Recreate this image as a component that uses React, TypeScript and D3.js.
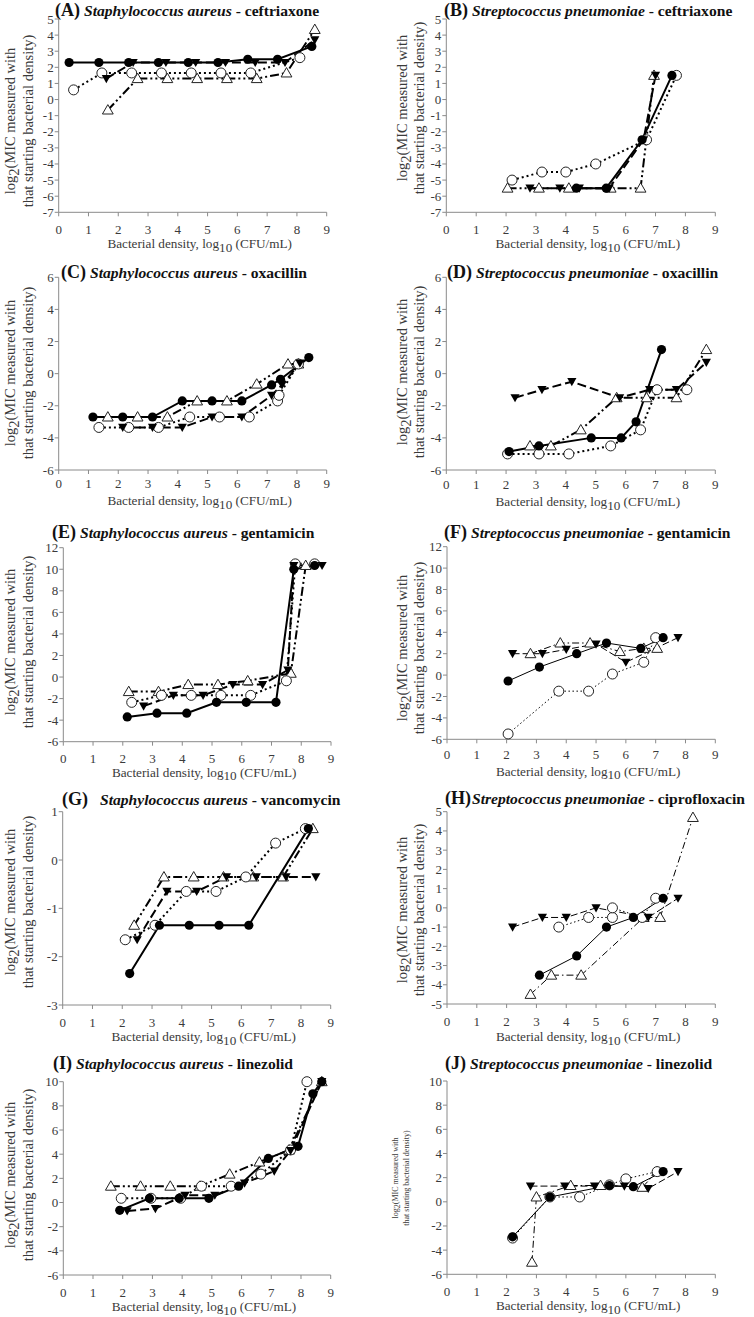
import React from 'react';
import * as d3 from 'd3';

type Pt = [number, number];

// ---------- tick labels ----------
const xTickVals = [0, 1, 2, 3, 4, 5, 6, 7, 8, 9];
const yTicksAB = [-7, -6, -5, -4, -3, -2, -1, 0, 1, 2, 3, 4, 5];
const yTicksCD = [-6, -4, -2, 0, 2, 4, 6];
const yTicksEF = [-6, -4, -2, 0, 2, 4, 6, 8, 10, 12];
const yTicksG = [-3, -2, -1, 0, 1];
const yTicksH = [-5, -4, -3, -2, -1, 0, 1, 2, 3, 4, 5];
const yTicksIJ = [-6, -4, -2, 0, 2, 4, 6, 8, 10];

// ---------- data: fc = filled circle, ft = filled triangle, oc = open circle, ot = open triangle ----------
const aFC: Pt[] = [[0.35, 2.3], [1.35, 2.3], [2.35, 2.3], [3.35, 2.3], [4.35, 2.3], [5.35, 2.3], [6.35, 2.5], [7.35, 2.5], [8.5, 3.3]];
const aFT: Pt[] = [[1.6, 1.3], [2.5, 2.3], [3.6, 2.3], [4.6, 2.3], [5.6, 2.3], [6.6, 2.3], [7.6, 2.3], [8.6, 3.7]];
const aOC: Pt[] = [[0.5, 0.6], [1.45, 1.65], [2.45, 1.65], [3.45, 1.65], [4.45, 1.65], [5.45, 1.65], [6.45, 1.65], [8.1, 2.6]];
const aOT: Pt[] = [[1.65, -0.65], [2.65, 1.3], [3.65, 1.3], [4.65, 1.3], [5.65, 1.3], [6.65, 1.3], [7.65, 1.65], [8.6, 4.35]];

const bFC: Pt[] = [[4.35, -5.5], [5.35, -5.5], [6.55, -2.5], [7.55, 1.5]];
const bFT: Pt[] = [[2.8, -5.5], [3.8, -5.5], [4.45, -5.5], [5.45, -5.5], [6.6, -2.5], [7.0, 1.5]];
const bOC: Pt[] = [[2.2, -5.0], [3.2, -4.5], [4.0, -4.5], [5.0, -4.0], [6.7, -2.5], [7.7, 1.5]];
const bOT: Pt[] = [[2.05, -5.5], [3.1, -5.5], [4.1, -5.5], [5.5, -5.5], [6.5, -5.5], [6.95, 1.5]];

const cFC: Pt[] = [[1.15, -2.7], [2.15, -2.7], [3.15, -2.7], [4.15, -1.7], [5.15, -1.7], [6.15, -1.7], [7.15, -0.7], [7.45, -0.35], [8.4, 1.0]];
const cFT: Pt[] = [[2.15, -3.35], [3.15, -3.35], [4.15, -3.35], [5.15, -2.7], [6.15, -2.7], [7.15, -1.35], [7.5, -0.7], [8.1, 0.65]];
const cOC: Pt[] = [[1.35, -3.35], [2.35, -3.35], [3.35, -3.35], [4.4, -2.7], [5.4, -2.7], [6.4, -2.7], [7.35, -1.7], [7.4, -1.35], [8.05, 0.6]];
const cOT: Pt[] = [[1.65, -2.7], [2.65, -2.7], [3.65, -2.7], [4.65, -1.7], [5.65, -1.7], [6.65, -0.65], [7.7, 0.6], [8.05, 0.6]];

const dFC: Pt[] = [[2.1, -4.85], [3.1, -4.5], [4.85, -4.0], [5.85, -4.0], [6.35, -3.0], [7.2, 1.5]];
const dFT: Pt[] = [[2.3, -1.5], [3.2, -1.0], [4.2, -0.5], [5.8, -1.5], [6.8, -1.0], [7.7, -1.0], [8.7, 0.7]];
const dOC: Pt[] = [[2.05, -5.0], [3.1, -5.0], [4.1, -5.0], [5.5, -4.5], [6.5, -3.5], [7.05, -1.0], [8.05, -1.0]];
const dOT: Pt[] = [[2.8, -4.5], [3.5, -4.5], [4.5, -3.5], [5.7, -1.5], [6.7, -1.5], [7.7, -1.5], [8.7, 1.5]];

const eFC: Pt[] = [[2.15, -3.7], [3.15, -3.35], [4.15, -3.35], [5.15, -2.35], [6.15, -2.35], [7.15, -2.35], [7.75, 10.0], [8.45, 10.35]];
const eFT: Pt[] = [[2.7, -2.7], [3.7, -1.7], [4.7, -1.7], [5.7, -0.7], [6.7, -0.7], [7.55, 0.65], [7.75, 10.35], [8.7, 10.35]];
const eOC: Pt[] = [[2.3, -2.35], [3.3, -1.7], [4.3, -1.7], [5.3, -1.7], [6.3, -1.7], [7.5, -0.35], [7.8, 10.5], [8.45, 10.5]];
const eOT: Pt[] = [[2.2, -1.35], [3.2, -1.35], [4.2, -0.7], [5.2, -0.7], [6.2, -0.35], [7.65, 0.35], [8.15, 10.35]];

const fFC: Pt[] = [[2.05, -0.55], [3.1, 0.75], [4.35, 2.0], [5.35, 3.0], [6.5, 2.5], [7.25, 3.5]];
const fFT: Pt[] = [[2.2, 2.0], [3.2, 2.0], [4.0, 2.4], [5.0, 2.9], [6.0, 1.2], [7.75, 3.5]];
const fOC: Pt[] = [[2.05, -5.5], [3.75, -1.5], [4.75, -1.5], [5.55, 0.1], [6.6, 1.2], [7.0, 3.5]];
const fOT: Pt[] = [[2.8, 2.0], [3.8, 3.0], [4.8, 3.0], [5.8, 2.2], [6.6, 2.5], [7.05, 2.5]];

const gFC: Pt[] = [[2.25, -2.35], [3.25, -1.35], [4.25, -1.35], [5.25, -1.35], [6.25, -1.35], [8.25, 0.65]];
const gFT: Pt[] = [[2.5, -1.65], [3.5, -0.65], [4.5, -0.65], [5.5, -0.35], [6.5, -0.35], [7.5, -0.35], [8.5, -0.35]];
const gOC: Pt[] = [[2.1, -1.65], [3.1, -1.35], [4.15, -0.65], [5.15, -0.65], [6.15, -0.35], [7.15, 0.35], [8.15, 0.65]];
const gOT: Pt[] = [[2.4, -1.35], [3.4, -0.35], [4.4, -0.35], [5.4, -0.35], [6.4, -0.35], [7.4, -0.35], [8.4, 0.65]];

const hFC: Pt[] = [[3.1, -3.5], [4.35, -2.5], [5.35, -1.0], [6.25, -0.5], [7.25, 0.5]];
const hFT: Pt[] = [[2.2, -1.0], [3.2, -0.5], [4.0, -0.5], [5.0, 0.0], [6.75, -0.5], [7.75, 0.5]];
const hOC: Pt[] = [[3.75, -1.0], [4.75, -0.5], [5.55, -0.5], [5.55, 0.0], [6.55, -0.5], [7.0, 0.5]];
const hOT: Pt[] = [[2.8, -4.5], [3.5, -3.5], [4.5, -3.5], [6.6, -0.5], [7.15, -0.5], [8.25, 4.7]];

const iFC: Pt[] = [[1.9, -0.65], [2.9, 0.35], [3.9, 0.35], [4.9, 0.35], [5.9, 1.35], [6.9, 3.65], [7.9, 4.65], [8.4, 9.0], [8.7, 10.0]];
const iFT: Pt[] = [[2.15, -0.7], [3.1, -0.5], [4.1, 0.6], [5.1, 0.6], [6.1, 1.6], [7.1, 2.6], [7.65, 4.3], [8.7, 10.0]];
const iOC: Pt[] = [[1.95, 0.35], [2.95, 0.35], [3.95, 0.35], [4.65, 1.35], [5.65, 1.35], [6.65, 2.35], [7.65, 4.35], [8.2, 10.0]];
const iOT: Pt[] = [[1.6, 1.35], [2.6, 1.35], [3.6, 1.35], [4.6, 1.35], [5.6, 2.35], [6.6, 3.35], [7.6, 4.35], [8.7, 10.0]];

const jFC: Pt[] = [[2.2, -2.9], [3.45, 0.4], [5.45, 1.35], [6.25, 1.25], [7.25, 2.5]];
const jFT: Pt[] = [[2.8, 1.3], [3.95, 1.3], [4.95, 1.3], [5.95, 1.3], [6.75, 1.1], [7.75, 2.5]];
const jOC: Pt[] = [[2.2, -3.0], [3.45, 0.4], [4.45, 0.4], [5.45, 1.4], [6.0, 1.9], [7.05, 2.5]];
const jOT: Pt[] = [[2.85, -5.0], [3.0, 0.4], [4.15, 1.35], [5.15, 1.35], [6.55, 1.2], [7.05, 2.5]];

// ---------- panel meta ----------
const letters = ['(A)', '(B)', '(C)', '(D)', '(E)', '(F)', '(G)', '(H)', '(I)', '(J)'];
const speciesNames = ['Staphylococcus aureus', 'Streptococcus pneumoniae'];
const drugs = ['ceftriaxone', 'ceftriaxone', 'oxacillin', 'oxacillin', 'gentamicin', 'gentamicin', 'vancomycin', 'ciprofloxacin', 'linezolid', 'linezolid'];

interface Layout {
  x0: number; x9: number; yT: number; yB: number;
  tx: number; ty: number; gap: number;
  tickDy: number; labDy: number;
  yl1: number; yl2: number; ylc: number; ylSize: number;
  thin: boolean;
}

const L: Layout[] = [
  { x0: 58.7, x9: 326.7, yT: 19, yB: 212.3, tx: 55, ty: 15.5, gap: 4, tickDy: 22, labDy: 36, yl1: 15, yl2: 33, ylc: 121, ylSize: 14.5, thin: false },
  { x0: 446.3, x9: 715.3, yT: 19, yB: 212.3, tx: 444, ty: 15.5, gap: 4, tickDy: 22, labDy: 36, yl1: 407, yl2: 424, ylc: 108, ylSize: 14.5, thin: false },
  { x0: 58.7, x9: 326.7, yT: 277.3, yB: 470, tx: 61, ty: 278, gap: 4, tickDy: 17.5, labDy: 35, yl1: 15, yl2: 33, ylc: 373, ylSize: 14.5, thin: false },
  { x0: 446.3, x9: 715.3, yT: 277.3, yB: 470, tx: 447, ty: 278, gap: 4, tickDy: 18.5, labDy: 36, yl1: 407, yl2: 424, ylc: 372, ylSize: 14.5, thin: false },
  { x0: 63.3, x9: 331, yT: 547.7, yB: 741.7, tx: 52, ty: 538, gap: 4, tickDy: 21, labDy: 35, yl1: 15, yl2: 33, ylc: 642, ylSize: 14.5, thin: false },
  { x0: 447, x9: 715.3, yT: 546.7, yB: 739.3, tx: 444, ty: 538, gap: 4, tickDy: 20, labDy: 36.5, yl1: 407, yl2: 424, ylc: 648, ylSize: 14.5, thin: true },
  { x0: 62.7, x9: 330.7, yT: 811.7, yB: 1005, tx: 62, ty: 805, gap: 12, tickDy: 22, labDy: 36, yl1: 15, yl2: 33, ylc: 902, ylSize: 14.5, thin: false },
  { x0: 447, x9: 715.3, yT: 811.7, yB: 1004, tx: 445, ty: 804, gap: 1, tickDy: 22, labDy: 37, yl1: 407, yl2: 424, ylc: 910, ylSize: 14.5, thin: true },
  { x0: 63.3, x9: 330.7, yT: 1081.7, yB: 1275, tx: 53, ty: 1069, gap: 4, tickDy: 22, labDy: 36, yl1: 15, yl2: 33, ylc: 1175, ylSize: 14.5, thin: false },
  { x0: 447, x9: 715.3, yT: 1081, yB: 1274.3, tx: 445, ty: 1069, gap: 4, tickDy: 22, labDy: 36, yl1: 398, yl2: 409, ylc: 1178, ylSize: 8, thin: true },
];

const yTickSets = [yTicksAB, yTicksAB, yTicksCD, yTicksCD, yTicksEF, yTicksEF, yTicksG, yTicksH, yTicksIJ, yTicksIJ];
const seriesSets: Pt[][][] = [
  [aOT, aOC, aFT, aFC], [bOT, bOC, bFT, bFC], [cOT, cOC, cFT, cFC], [dOT, dOC, dFT, dFC], [eOT, eOC, eFT, eFC],
  [fOT, fOC, fFT, fFC], [gOT, gOC, gFT, gFC], [hOT, hOC, hFT, hFC], [iOT, iOC, iFT, iFC], [jOT, jOC, jFT, jFC],
];
const kinds = ['ot', 'oc', 'ft', 'fc'];

const FONT = '"Liberation Serif", "Times New Roman", serif';
const TEXT = '#3a3a3a';
const AXIS = '#8a8a8a';
const TICK_FS = 13;

function dashFor(kind: string, thin: boolean): string | undefined {
  if (kind === 'fc') return undefined;
  if (kind === 'ft') return thin ? '7,3' : '9,4';
  if (kind === 'oc') return thin ? '1.5,2.5' : '2,3';
  return thin ? '7,3,1.5,3' : '9,3,2,3,2,3';
}

function Marker({ kind, x, y }: { kind: string; x: number; y: number }) {
  if (kind === 'fc') return <circle cx={x} cy={y} r={4.6} fill="#000" />;
  if (kind === 'oc') return <circle cx={x} cy={y} r={5} fill="#fff" stroke="#222" strokeWidth={1} />;
  if (kind === 'ft') return <path d={`M${x - 4.6},${y - 3.6}L${x + 4.6},${y - 3.6}L${x},${y + 4.6}Z`} fill="#000" />;
  return <path d={`M${x},${y - 5.4}L${x + 5.4},${y + 4}L${x - 5.4},${y + 4}Z`} fill="#fff" stroke="#222" strokeWidth={1} />;
}

function Panel({ i }: { i: number }) {
  const l = L[i];
  const yTicks = yTickSets[i];
  const yMin = yTicks[0];
  const yMax = yTicks[yTicks.length - 1];
  const x = d3.scaleLinear().domain([0, 9]).range([l.x0, l.x9]);
  const y = d3.scaleLinear().domain([yMin, yMax]).range([l.yB, l.yT]);
  const line = d3.line<Pt>().x((d) => x(d[0])).y((d) => y(d[1]));
  const sp = speciesNames[i % 2];
  const midX = (l.x0 + l.x9) / 2;
  return (
    <g>
      {/* title */}
      <text x={l.tx} y={l.ty} fontFamily={FONT} fontWeight="bold" fill="#111">
        <tspan fontSize={18}>{letters[i]}</tspan>
        <tspan dx={l.gap} fontSize={15.6} fontStyle="italic">{sp}</tspan>
        <tspan fontSize={15.6}>{' - ' + drugs[i]}</tspan>
      </text>
      {/* axes */}
      <line x1={l.x0} x2={l.x0} y1={l.yT} y2={l.yB} stroke={AXIS} strokeWidth={1} />
      <line x1={l.x0} x2={l.x9} y1={l.yB} y2={l.yB} stroke={AXIS} strokeWidth={1} />
      {yTicks.map((t) => (
        <g key={'y' + t}>
          <line x1={l.x0 - 4} x2={l.x0} y1={y(t)} y2={y(t)} stroke={AXIS} />
          <text x={l.x0 - 5} y={y(t) + 4.5} textAnchor="end" fontFamily={FONT} fontSize={TICK_FS} fill={TEXT}>{t}</text>
        </g>
      ))}
      {xTickVals.map((t) => (
        <g key={'x' + t}>
          <line x1={x(t)} x2={x(t)} y1={l.yB} y2={l.yB + 4} stroke={AXIS} />
          <text x={x(t)} y={l.yB + l.tickDy} textAnchor="middle" fontFamily={FONT} fontSize={TICK_FS} fill={TEXT}>{t}</text>
        </g>
      ))}
      {/* x label */}
      <text x={midX + 7} y={l.yB + l.labDy} textAnchor="middle" fontFamily={FONT} fontSize={13.2} fill={TEXT}>
        Bacterial density, log<tspan dy={3.5}>10</tspan><tspan dy={-3.5}> (CFU/mL)</tspan>
      </text>
      {/* y label */}
      <text transform={`translate(${l.yl1},${l.ylc}) rotate(-90)`} textAnchor="middle" fontFamily={FONT} fontSize={l.ylSize} fill={TEXT}>
        log<tspan dy={l.ylSize * 0.3}>2</tspan><tspan dy={-l.ylSize * 0.3}>(MIC measured with</tspan>
      </text>
      <text transform={`translate(${l.yl2},${l.ylc}) rotate(-90)`} textAnchor="middle" fontFamily={FONT} fontSize={l.ylSize} fill={TEXT}>
        that starting bacterial density)
      </text>
      {/* series lines */}
      {seriesSets[i].map((s, k) => (
        <path key={'l' + k} d={line(s) || ''} fill="none" stroke="#000"
          strokeWidth={l.thin ? 1 : 2} strokeDasharray={dashFor(kinds[k], l.thin)} />
      ))}
      {/* markers */}
      {seriesSets[i].map((s, k) => (
        <g key={'m' + k}>
          {s.map((d, j) => <Marker key={j} kind={kinds[k]} x={x(d[0])} y={y(d[1])} />)}
        </g>
      ))}
    </g>
  );
}

export default function App() {
  return (
    <svg width={754} height={1317} style={{ position: 'absolute', left: 0, top: 0, background: '#fff' }}>
      <rect width={754} height={1317} fill="#fff" />
      {letters.map((_, i) => <Panel key={i} i={i} />)}
    </svg>
  );
}
